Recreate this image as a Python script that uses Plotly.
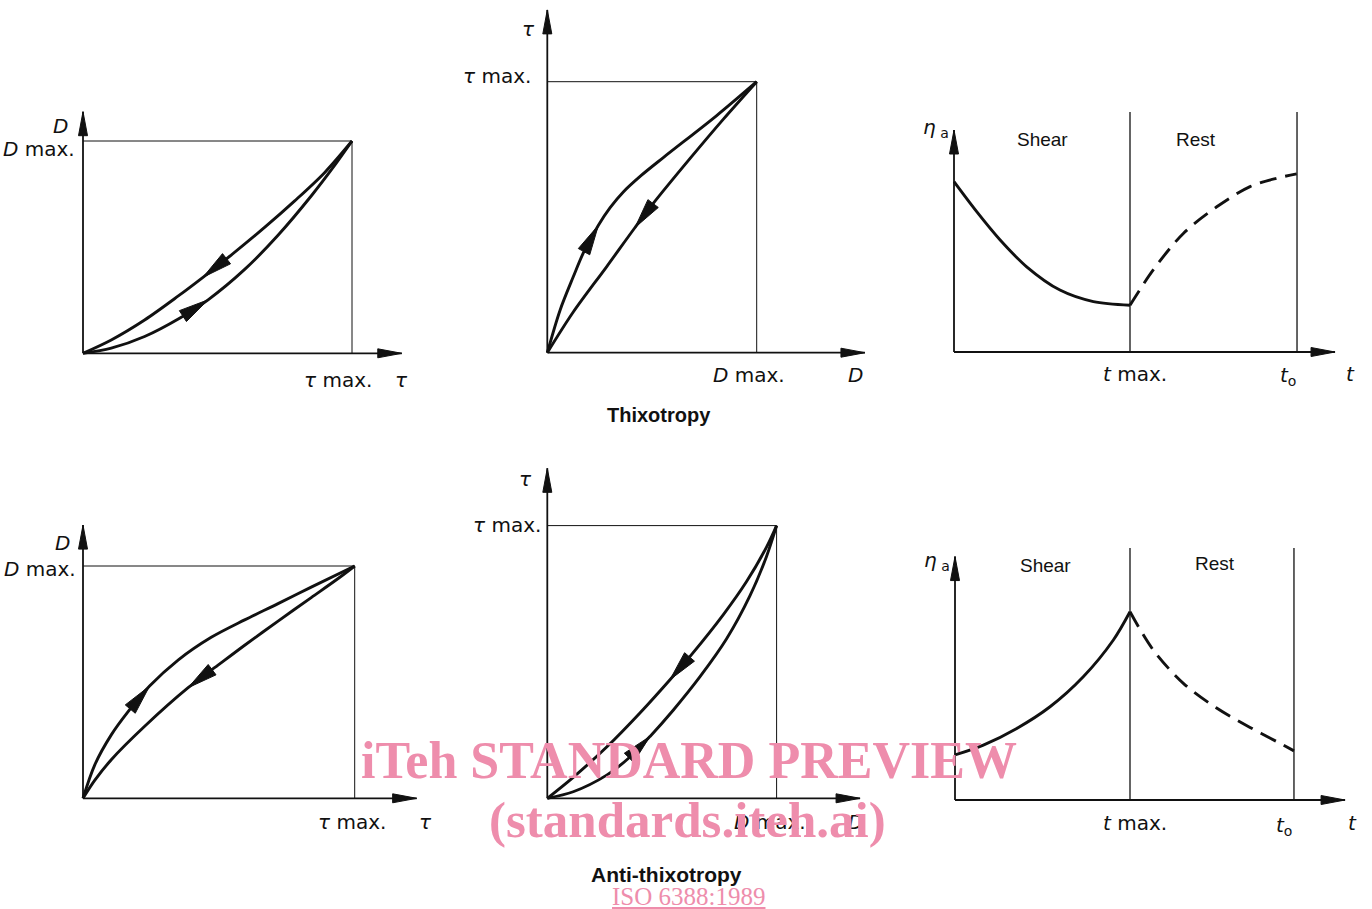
import numpy as np
import plotly.graph_objects as go

W, H = 1372, 909

# ---------------- data (normalised: maximum value = 1) ----------------
TAU_MAX = 1.0
D_MAX = 1.0
T_MAX = 1.0

# Thixotropy, D against tau
THX_DT_UP_TAU = [0, 0.105, 0.229, 0.359, 0.465, 0.601, 0.725, 0.849, 0.936, 1.0]
THX_DT_UP_D = [0, 0.024, 0.079, 0.165, 0.252, 0.395, 0.556, 0.742, 0.886, 1.0]
THX_DT_DOWN_TAU = [0, 0.105, 0.229, 0.353, 0.446, 0.551, 0.675, 0.787, 0.898, 1.0]
THX_DT_DOWN_D = [0, 0.063, 0.157, 0.269, 0.358, 0.463, 0.593, 0.718, 0.851, 1.0]

# Thixotropy, tau against D
THX_TD_UP_D = [0, 0.061, 0.124, 0.172, 0.244, 0.30, 0.363, 0.45, 0.554, 0.809, 1.0]
THX_TD_UP_TAU = [0, 0.157, 0.280, 0.368, 0.470, 0.535, 0.593, 0.655, 0.720, 0.875, 1.0]
THX_TD_DOWN_D = [0, 0.124, 0.283, 0.419, 0.506, 0.682, 0.841, 1.0]
THX_TD_DOWN_TAU = [0, 0.150, 0.317, 0.462, 0.551, 0.717, 0.862, 1.0]

# Thixotropy, apparent viscosity against time
THX_T0 = 1.949
THX_SHEAR_T = [0, 0.129, 0.261, 0.413, 0.602, 0.792, 1.0]
THX_SHEAR_ETA = [0.71, 0.585, 0.468, 0.355, 0.258, 0.21, 0.195]
THX_REST_T = [1.0, 1.132, 1.303, 1.493, 1.682, 1.834, 1.947]
THX_REST_ETA = [0.195, 0.342, 0.494, 0.605, 0.689, 0.724, 0.742]

# Anti-thixotropy, D against tau
ATX_DT_UP_TAU = [0, 0.043, 0.104, 0.166, 0.245, 0.350, 0.472, 0.595, 0.718, 0.840, 1.0]
ATX_DT_UP_D = [0, 0.143, 0.273, 0.373, 0.483, 0.595, 0.693, 0.768, 0.838, 0.909, 1.0]
ATX_DT_DOWN_TAU = [0, 0.043, 0.104, 0.227, 0.387, 0.497, 0.595, 0.718, 0.840, 0.939, 1.0]
ATX_DT_DOWN_D = [0, 0.077, 0.166, 0.310, 0.476, 0.573, 0.659, 0.763, 0.864, 0.946, 1.0]

# Anti-thixotropy, tau against D
ATX_TD_UP_D = [0, 0.113, 0.259, 0.353, 0.448, 0.549, 0.666, 0.782, 0.884, 0.956, 1.0]
ATX_TD_UP_TAU = [0, 0.024, 0.085, 0.146, 0.227, 0.323, 0.446, 0.585, 0.743, 0.887, 1.0]
ATX_TD_DOWN_D = [0, 0.113, 0.259, 0.404, 0.535, 0.629, 0.767, 0.869, 0.956, 1.0]
ATX_TD_DOWN_TAU = [0, 0.077, 0.188, 0.313, 0.435, 0.527, 0.673, 0.795, 0.921, 1.0]

# Anti-thixotropy, apparent viscosity against time
ATX_T0 = 1.937
ATX_SHEAR_T = [0, 0.162, 0.353, 0.543, 0.733, 0.905, 1.0]
ATX_SHEAR_ETA = [0.179, 0.218, 0.284, 0.370, 0.489, 0.635, 0.747]
ATX_REST_T = [1.0, 1.133, 1.305, 1.495, 1.686, 1.838, 1.937]
ATX_REST_ETA = [0.747, 0.595, 0.463, 0.365, 0.288, 0.232, 0.195]

# ---------------- layout of the six panels (pixels) ----------------
PANELS = {
    1: dict(o=(83, 353.3), u=(269, 212.3), box=(0, 95, 445, 400), tip=(1.185, 1.138)),
    2: dict(o=(547.3, 352.7), u=(209.4, 271), box=(450, 0, 890, 440), tip=(1.517, 1.265)),
    3: dict(o=(954, 352), u=(176, 240), box=(900, 95, 1372, 400), tip=(2.165, 0.925)),
    4: dict(o=(83, 798.3), u=(271.7, 232.3), box=(0, 510, 445, 850), tip=(1.228, 1.176)),
    5: dict(o=(547.3, 798.3), u=(229.3, 272.7), box=(450, 455, 890, 900), tip=(1.364, 1.21)),
    6: dict(o=(955, 800), u=(175, 252), box=(900, 530, 1372, 850), tip=(2.229, 0.966)),
}

INK = "#111111"
LBL_FONT = dict(family="DejaVu Sans", size=20, color=INK)
SR_FONT = dict(family="Liberation Sans", size=19, color=INK)

fig = go.Figure()
layout = dict(width=W, height=H, margin=dict(l=0, r=0, t=0, b=0),
              paper_bgcolor="white", plot_bgcolor="rgba(0,0,0,0)",
              showlegend=False, hovermode=False)


def refs(k):
    s = "" if k == 1 else str(k)
    return "x" + s, "y" + s


for k, p in PANELS.items():
    ox, oy = p["o"]
    ux, uy = p["u"]
    bx0, by0, bx1, by1 = p["box"]
    s = "" if k == 1 else str(k)
    layout["xaxis" + s] = dict(domain=[bx0 / W, bx1 / W],
                               range=[(bx0 - ox) / ux, (bx1 - ox) / ux],
                               visible=False, fixedrange=True, anchor="y" + s)
    layout["yaxis" + s] = dict(domain=[1 - by1 / H, 1 - by0 / H],
                               range=[(oy - by1) / uy, (oy - by0) / uy],
                               visible=False, fixedrange=True, anchor="x" + s)


def line(k, xs, ys, width=2.9, dash="solid", spline=True):
    xr, yr = refs(k)
    fig.add_trace(go.Scatter(
        x=xs, y=ys, mode="lines", xaxis=xr, yaxis=yr, hoverinfo="skip",
        line=dict(color=INK, width=width, dash=dash,
                  shape="spline" if spline else "linear", smoothing=0.9)))


def head(k, hx, hy, tx, ty, length, half):
    """filled triangle with its tip at (hx,hy), pointing away from (tx,ty)"""
    ux, uy = PANELS[k]["u"]
    d = np.array([(hx - tx) * ux, (hy - ty) * uy])
    d = d / np.hypot(*d)
    n = np.array([-d[1], d[0]])
    tip = np.array([hx * ux, hy * uy])
    base = tip - length * d
    pts = [tip, base + half * n, base - half * n, tip]
    xr, yr = refs(k)
    fig.add_trace(go.Scatter(
        x=[q[0] / ux for q in pts], y=[q[1] / uy for q in pts],
        mode="lines", fill="toself", fillcolor=INK, xaxis=xr, yaxis=yr,
        line=dict(color=INK, width=1), hoverinfo="skip"))


def axes(k):
    tx, ty = PANELS[k]["tip"]
    line(k, [0, tx], [0, 0], width=1.8, spline=False)
    line(k, [0, 0], [0, ty], width=1.8, spline=False)
    head(k, tx, 0, 0, 0, 24, 4.5)
    head(k, 0, ty, 0, 0, 24, 4.5)


def curve_arrow(k, xs, ys, x_head, x_tail):
    hy = float(np.interp(x_head, xs, ys))
    ty = float(np.interp(x_tail, xs, ys))
    head(k, x_head, hy, x_tail, ty, 30, 6.5)


# ---- loops: (panel, x data, y data, arrow tip x, arrow base x) ----
LOOPS = [
    (1, THX_DT_UP_TAU, THX_DT_UP_D, 0.465, 0.359),
    (1, THX_DT_DOWN_TAU, THX_DT_DOWN_D, 0.446, 0.551),
    (2, THX_TD_UP_D, THX_TD_UP_TAU, 0.244, 0.172),
    (2, THX_TD_DOWN_D, THX_TD_DOWN_TAU, 0.419, 0.506),
    (4, ATX_DT_UP_TAU, ATX_DT_UP_D, 0.245, 0.166),
    (4, ATX_DT_DOWN_TAU, ATX_DT_DOWN_D, 0.387, 0.497),
    (5, ATX_TD_UP_D, ATX_TD_UP_TAU, 0.448, 0.353),
    (5, ATX_TD_DOWN_D, ATX_TD_DOWN_TAU, 0.535, 0.629),
]

for k in (1, 2, 4, 5):
    xmax = TAU_MAX if k in (1, 4) else D_MAX
    ymax = D_MAX if k in (1, 4) else TAU_MAX
    line(k, [0, xmax, xmax], [ymax, ymax, 0], width=1.0, spline=False)
    axes(k)

for k, xs, ys, xh, xt in LOOPS:
    line(k, xs, ys)
    curve_arrow(k, xs, ys, xh, xt)

# ---- viscosity against time ----
for k, t0, st, se, rt, re in [
    (3, THX_T0, THX_SHEAR_T, THX_SHEAR_ETA, THX_REST_T, THX_REST_ETA),
    (6, ATX_T0, ATX_SHEAR_T, ATX_SHEAR_ETA, ATX_REST_T, ATX_REST_ETA),
]:
    line(k, [T_MAX, T_MAX], [0, 1.0], width=1.3, spline=False)
    line(k, [t0, t0], [0, 1.0], width=1.3, spline=False)
    axes(k)
    line(k, st, se)
    line(k, rt, re, dash="17px,9px")

# ---------------- text ----------------
ann = []


def lab(k, text, x, y, xa="center", ya="middle", dx=0, dy=0, font=LBL_FONT):
    xr, yr = refs(k)
    ann.append(dict(text=text, x=x, y=y, xref=xr, yref=yr, showarrow=False,
                    xanchor=xa, yanchor=ya, xshift=dx, yshift=dy, font=font))


def ptxt(text, px, py, font):
    ann.append(dict(text=text, x=px / W, y=1 - py / H, xref="paper", yref="paper",
                    showarrow=False, xanchor="center", yanchor="middle", font=font))


# panel 1
t1 = PANELS[1]["tip"]
lab(1, "<i>D</i>", 0, t1[1], xa="right", dx=-13, dy=-14)
lab(1, "<i>D</i> max.", 0, D_MAX, xa="right", dx=-6, dy=-8)
lab(1, "<i>τ</i> max.", TAU_MAX, 0, dx=-14, dy=-27)
lab(1, "<i>τ</i>", t1[0], 0, dx=0, dy=-27)
# panel 2
t2 = PANELS[2]["tip"]
lab(2, "<i>τ</i>", 0, t2[1], dx=-19, dy=-19)
lab(2, "<i>τ</i> max.", 0, TAU_MAX, xa="right", dx=-14, dy=6)
lab(2, "<i>D</i> max.", D_MAX, 0, dx=-8, dy=-22)
lab(2, "<i>D</i>", t2[0], 0, dx=-9, dy=-22)
# panel 3
t3 = PANELS[3]["tip"]
lab(3, "<i>η</i><sub> a</sub>", 0, t3[1], xa="right", dx=-3, dy=2)
lab(3, "Shear", T_MAX / 2, 1.0, dx=0, dy=-28, font=SR_FONT)
lab(3, "Rest", (T_MAX + THX_T0) / 2, 1.0, dx=-18, dy=-28, font=SR_FONT)
lab(3, "<i>t</i> max.", T_MAX, 0, dx=5, dy=-22)
lab(3, "<i>t</i><sub>o</sub>", THX_T0, 0, dx=-9, dy=-24)
lab(3, "<i>t</i>", t3[0], 0, dx=15, dy=-22)
# panel 4
t4 = PANELS[4]["tip"]
lab(4, "<i>D</i>", 0, t4[1], xa="right", dx=-11, dy=-18)
lab(4, "<i>D</i> max.", 0, D_MAX, xa="right", dx=-5, dy=-3)
lab(4, "<i>τ</i> max.", TAU_MAX, 0, dx=-3, dy=-24)
lab(4, "<i>τ</i>", t4[0], 0, dx=9, dy=-24)
# panel 5
t5 = PANELS[5]["tip"]
lab(5, "<i>τ</i>", 0, t5[1], dx=-22, dy=-11)
lab(5, "<i>τ</i> max.", 0, TAU_MAX, xa="right", dx=-4, dy=1)
lab(5, "<i>D</i> max.", D_MAX, 0, dx=-7, dy=-24)
lab(5, "<i>D</i>", t5[0], 0, dx=-5, dy=-24)
# panel 6
t6 = PANELS[6]["tip"]
lab(6, "<i>η</i><sub> a</sub>", 0, t6[1], xa="right", dx=-3, dy=-4)
lab(6, "Shear", T_MAX / 2, 1.0, dx=3, dy=-17, font=SR_FONT)
lab(6, "Rest", (T_MAX + ATX_T0) / 2, 1.0, dx=3, dy=-15, font=SR_FONT)
lab(6, "<i>t</i> max.", T_MAX, 0, dx=5, dy=-23)
lab(6, "<i>t</i><sub>o</sub>", ATX_T0, 0, dx=-10, dy=-26)
lab(6, "<i>t</i>", t6[0], 0, dx=7, dy=-23)

ptxt("<b>Thixotropy</b>", 659, 415, dict(family="Liberation Sans", size=20, color=INK))
ptxt("<b>Anti-thixotropy</b>", 666, 874, dict(family="Liberation Sans", size=21, color=INK))

PINK = "#ee8dac"
ptxt("<b>iTeh STANDARD PREVIEW</b>", 689, 760, dict(family="Liberation Serif", size=52, color=PINK))
ptxt("<b>(standards.iteh.ai)</b>", 687, 820, dict(family="Liberation Serif", size=51, color=PINK))
ptxt("ISO 6388:1989", 688, 896, dict(family="Liberation Serif", size=25, color=PINK, lineposition="under"))

layout["annotations"] = ann
fig.update_layout(**layout)
fig.write_html("out.html", config={"displayModeBar": False, "staticPlot": True},
               post_script="document.body.style.margin='0';document.body.style.overflow='hidden';")
